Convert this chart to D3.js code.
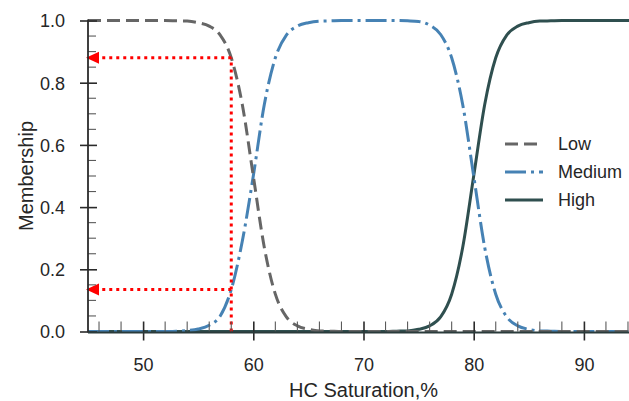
<!DOCTYPE html>
<html>
<head>
<meta charset="utf-8">
<script src="https://cdn.jsdelivr.net/npm/d3@7"></script>
<style>
  body { margin: 0; background: #fff; }
  svg { display: block; }
  text { font-family: "Liberation Sans", Arial, sans-serif; fill: #262626; }
</style>
</head>
<body>
<svg id="chart" width="629" height="401"></svg>
<script>
// HC saturation (%) sample points
const saturation = [45,46,47,48,49,50,51,52,53,54,55,56,57,58,59,60,61,62,63,64,65,66,67,68,69,
                    70,71,72,73,74,75,76,77,78,79,80,81,82,83,84,85,86,87,88,89,90,91,92,93,94,95];

// membership degree of each fuzzy set at those points
const lowMembership = [1,1,1,1,1,1,1,1,0.999,0.998,0.993,0.982,0.953,0.88,0.73,0.5,0.27,0.12,0.047,0.018,0.007,0.002,0.001,0,0,
                       0,0,0,0,0,0,0,0,0,0,0,0,0,0,0,0,0,0,0,0,0,0,0,0,0,0];
const mediumMembership = [0,0,0,0,0,0,0,0,0.001,0.003,0.008,0.02,0.05,0.135,0.29,0.5,0.73,0.88,0.953,0.982,0.993,0.998,0.999,1,1,
                          1,1,1,1,0.999,0.997,0.985,0.955,0.88,0.73,0.5,0.27,0.12,0.047,0.018,0.007,0.002,0.001,0,0,0,0,0,0,0,0];
const highMembership = [0,0,0,0,0,0,0,0,0,0,0,0,0,0,0,0,0,0,0,0,0,0,0,0,0,
                        0,0,0,0.001,0.002,0.007,0.018,0.047,0.12,0.27,0.5,0.73,0.88,0.953,0.982,0.993,0.998,0.999,1,1,1,1,1,1,1,1];

const seriesNames = ["Low", "Medium", "High"];

// reading taken at 58 % saturation
const probeSaturation = 58;
const probeLow = 0.88;
const probeMedium = 0.135;

// axis ticks
const xMajorTicks = [50, 60, 70, 80, 90];
const xMinorTicks = [46, 48, 52, 54, 56, 58, 62, 64, 66, 68, 72, 74, 76, 78, 82, 84, 86, 88, 92, 94];
const yMajorTicks = [0, 0.2, 0.4, 0.6, 0.8, 1.0];
const yMinorTicks = [0.05, 0.1, 0.15, 0.25, 0.3, 0.35, 0.45, 0.5, 0.55, 0.65, 0.7, 0.75, 0.85, 0.9, 0.95];

const svg = d3.select("#chart");
const plotLeft = 88, plotRight = 639, plotTop = 20.5, plotBottom = 331.5;

const x = d3.scaleLinear().domain([45, 95]).range([plotLeft, plotRight]);
const y = d3.scaleLinear().domain([0, 1]).range([plotBottom, plotTop]);

svg.append("defs").append("clipPath").attr("id", "plotClip")
  .append("rect").attr("x", plotLeft).attr("y", 0).attr("width", plotRight - plotLeft).attr("height", 401);

const styles = {
  Low:    { values: lowMembership,    color: "#666666", dash: "13,6" },
  Medium: { values: mediumMembership, color: "#4682b4", dash: "21,5,3,5" },
  High:   { values: highMembership,   color: "#2f4f4f", dash: null }
};

const line = d3.line()
  .x(d => x(d[0]))
  .y(d => y(d[1]))
  .curve(d3.curveMonotoneX);

const plot = svg.append("g").attr("clip-path", "url(#plotClip)");

// the solid set first so the dashed ones stay visible along the baseline
["High", "Medium", "Low"].forEach(name => {
  const s = styles[name];
  plot.append("path")
    .datum(saturation.map((v, i) => [v, s.values[i]]))
    .attr("d", line)
    .attr("fill", "none")
    .attr("stroke", s.color)
    .attr("stroke-width", 3)
    .attr("stroke-dasharray", s.dash);
});

// probe lines at 58 %
const red = "#ff0000";
const arrowLen = 13, arrowHalf = 6;
plot.append("line")
  .attr("x1", x(probeSaturation)).attr("x2", x(probeSaturation))
  .attr("y1", y(0)).attr("y2", y(probeLow))
  .attr("stroke", red).attr("stroke-width", 3).attr("stroke-dasharray", "3,4");

[probeLow, probeMedium].forEach(v => {
  svg.append("line")
    .attr("x1", x(probeSaturation)).attr("x2", plotLeft - 2 + arrowLen)
    .attr("y1", y(v)).attr("y2", y(v))
    .attr("stroke", red).attr("stroke-width", 3).attr("stroke-dasharray", "3,4");
  const tip = plotLeft - 2;
  svg.append("path")
    .attr("d", `M${tip},${y(v)} L${tip + arrowLen},${y(v) - arrowHalf} L${tip + arrowLen},${y(v) + arrowHalf} Z`)
    .attr("fill", red);
});

// axes
const axisColor = "#2b2b2b";
const minorColor = "#5a5a5a";

const xAxis = svg.append("g").attr("transform", `translate(0,${plotBottom})`)
  .call(d3.axisBottom(x).tickValues(xMajorTicks).tickSize(0).tickFormat(d3.format("d")));
xAxis.select(".domain").remove();
xAxis.selectAll(".tick line").attr("y1", -10).attr("y2", 9).attr("stroke", axisColor).attr("stroke-width", 1.6);
xAxis.selectAll(".tick text").attr("y", 39).attr("dy", null).attr("font-size", 18).attr("fill", "#262626");
xAxis.attr("font-family", null).attr("font-size", null);

svg.append("g").selectAll("line").data(xMinorTicks).join("line")
  .attr("x1", d => x(d)).attr("x2", d => x(d))
  .attr("y1", plotBottom).attr("y2", plotBottom - 10)
  .attr("stroke", minorColor).attr("stroke-width", 1.1);

const yAxis = svg.append("g").attr("transform", `translate(${plotLeft},0)`)
  .call(d3.axisLeft(y).tickValues(yMajorTicks).tickSize(0).tickFormat(d3.format(".1f")));
yAxis.select(".domain").remove();
yAxis.selectAll(".tick line").attr("x1", -8).attr("x2", 9).attr("stroke", axisColor).attr("stroke-width", 1.6);
yAxis.selectAll(".tick text").attr("x", -23).attr("dy", "0.36em").attr("font-size", 18).attr("fill", "#262626");
yAxis.attr("font-family", null).attr("font-size", null);

svg.append("g").selectAll("line").data(yMinorTicks).join("line")
  .attr("x1", plotLeft).attr("x2", plotLeft + 8)
  .attr("y1", d => y(d)).attr("y2", d => y(d))
  .attr("stroke", minorColor).attr("stroke-width", 1.1);

// spines
svg.append("line").attr("x1", plotLeft).attr("x2", plotLeft).attr("y1", plotTop - 1).attr("y2", plotBottom + 1)
  .attr("stroke", axisColor).attr("stroke-width", 1.8);
svg.append("line").attr("x1", plotLeft).attr("x2", plotRight).attr("y1", plotBottom + 1).attr("y2", plotBottom + 1)
  .attr("stroke", "#2a3b3b").attr("stroke-width", 2);

// axis titles
svg.append("text")
  .attr("x", (plotLeft + plotRight) / 2).attr("y", 397)
  .attr("text-anchor", "middle").attr("font-size", 20)
  .text("HC Saturation,%");
svg.append("text")
  .attr("transform", `translate(33,${(plotTop + plotBottom) / 2}) rotate(-90)`)
  .attr("text-anchor", "middle").attr("font-size", 20)
  .text("Membership");

// legend
const legend = svg.append("g");
seriesNames.forEach((name, i) => {
  const s = styles[name];
  const ly = 144 + i * 28;
  legend.append("line")
    .attr("x1", 505).attr("x2", 543).attr("y1", ly).attr("y2", ly)
    .attr("stroke", s.color).attr("stroke-width", 3)
    .attr("stroke-dasharray", s.dash);
  legend.append("text")
    .attr("x", 558).attr("y", ly).attr("dy", "0.36em")
    .attr("font-size", 18)
    .text(name);
});
</script>
</body>
</html>
